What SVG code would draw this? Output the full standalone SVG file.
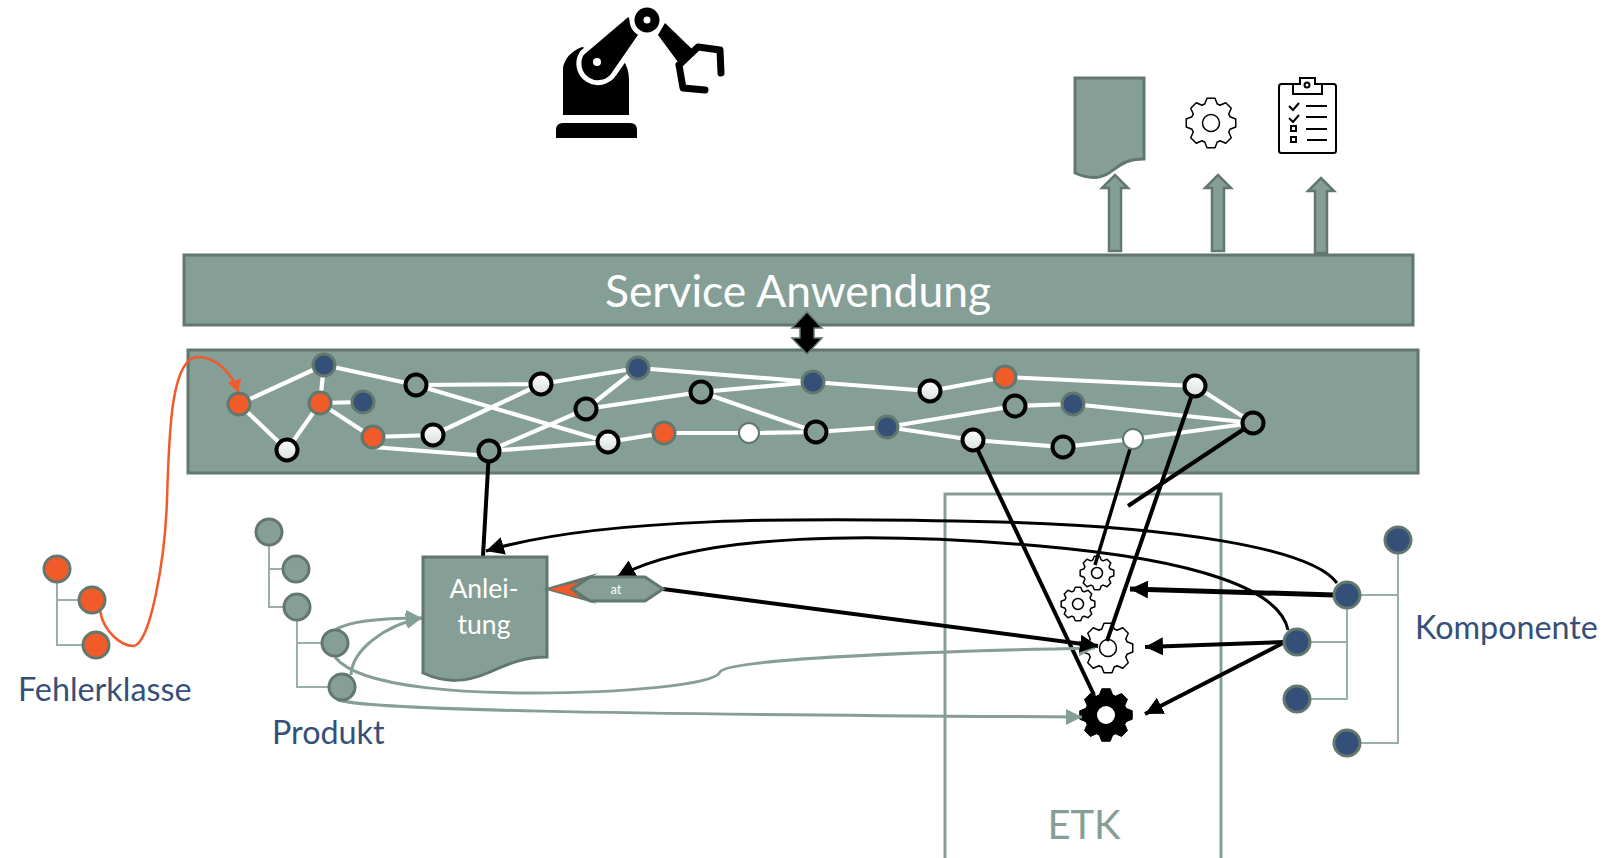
<svg xmlns="http://www.w3.org/2000/svg" xmlns:xlink="http://www.w3.org/1999/xlink" width="1609" height="858" viewBox="0 0 1609 858">
<style>
text{font-family:Lato,"Liberation Sans",sans-serif}
.band{fill:#859f97;stroke:#62776e;stroke-width:3}
.tl{fill:#355078;font-size:32.3px}
.tree{fill:none;stroke:#9ab0a7;stroke-width:2}
.o{fill:#f15a29;stroke:#62776e;stroke-width:3}
.n{fill:#355078;stroke:#62776e;stroke-width:3}
.g{fill:#859f97;stroke:#62776e;stroke-width:3}
.h{fill:#859f97;stroke:#000;stroke-width:4}
.w{fill:url(#wg);stroke:#000;stroke-width:4}
.p{fill:#fff;stroke:#62776e;stroke-width:2}
.lw{fill:none;stroke:#fff;stroke-width:4.2}
.lk{fill:none;stroke:#000;stroke-width:4}
.lk3{fill:none;stroke:#000;stroke-width:3}
.lg{fill:none;stroke:#859f97;stroke-width:3}
.gout{fill:#fff;stroke:#000;stroke-width:1.5;stroke-linejoin:round}
.gh{fill:#fff;stroke:#000;stroke-width:1.5}
</style>
<defs>
<linearGradient id="wg" x1="0" y1="0" x2="0" y2="1"><stop offset="0" stop-color="#fff"/><stop offset="1" stop-color="#d5dfdb"/></linearGradient>
<path id="gear" vector-effect="non-scaling-stroke" d="M76,-25L99,-16L99,16L76,25Q74,31 71,36L81,59L59,81L36,71Q31,74 25,76L16,99L-16,99L-25,76Q-31,74 -36,71L-59,81L-81,59L-71,36Q-74,31 -76,25L-99,16L-99,-16L-76,-25Q-74,-31 -71,-36L-81,-59L-59,-81L-36,-71Q-31,-74 -25,-76L-16,-99L16,-99L25,-76Q31,-74 36,-71L59,-81L81,-59L71,-36Q74,-31 76,-25Z"/>
<marker id="ak" markerUnits="userSpaceOnUse" markerWidth="20" markerHeight="18" refX="18" refY="9" orient="auto"><path d="M0,0L18,9L0,18Z" fill="#000"/></marker>
<marker id="ag" markerUnits="userSpaceOnUse" markerWidth="18" markerHeight="18" refX="16" refY="9" orient="auto"><path d="M0,1L16,9L0,17Z" fill="#859f97"/></marker>
<marker id="ao" markerUnits="userSpaceOnUse" markerWidth="14" markerHeight="14" refX="12" refY="7" orient="auto"><path d="M0,0L12,7L0,14Z" fill="#f15a29"/></marker>
</defs>

<g id="etk"><rect x="945" y="494" width="276" height="380" fill="none" stroke="#859f97" stroke-width="3"/>
<text x="1084" y="839" text-anchor="middle" font-size="40" fill="#859f97">ETK</text></g>

<g id="service-anwendung"><rect class="band" x="184" y="255" width="1229" height="70"/>
<text x="798" y="307" text-anchor="middle" font-size="44.4" fill="#fff">Service Anwendung</text></g>
<g id="graph-band"><rect class="band" x="188" y="350" width="1230" height="123"/></g>

<g id="gear-small-1"><use href="#gear" class="gout" transform="translate(1097,573) scale(.17)"/><circle class="gh" cx="1097" cy="573" r="5.5"/></g>
<g id="gear-small-2"><use href="#gear" class="gout" transform="translate(1078,604) scale(.17)"/><circle class="gh" cx="1078" cy="604" r="5.5"/></g>
<g id="gear-large"><use href="#gear" class="gout" transform="translate(1108,648) scale(.25)"/><circle class="gh" cx="1108" cy="648" r="8.5"/></g>
<g id="gear-black"><use href="#gear" fill="#000" stroke="#000" transform="translate(1106,715) scale(.265)"/><circle cx="1106" cy="715" r="9" fill="#fff"/></g>

<g id="connectors">
<g id="graph-edges">
<path class="lw" d="M239,404L324,365M239,404L287,450M287,450L320,403M324,365L320,403M320,403L363,402M320,403L372,437M372,437L433,435M372,447L489,456M433,435L541,384M324,365L416,385M416,385L541,384M416,385L608,442M541,384L638,368M638,368L586,409M489,451L586,409L701,392M489,451L608,442M608,442L664,433M664,433L749,433M749,433L816,432M816,432L887,427M638,368L813,382M701,392L813,382M701,392L816,432M813,382L930,391M930,391L1005,377M1005,377L1195,386M1195,386L1253,423M887,427L1015,406M1015,406L1073,404M1073,404L1253,423M887,427L973,440M973,440L1063,447M1063,447L1133,439M1133,439L1253,423"/>
</g>
<path class="lk" d="M489,451L483,556"/>
<path class="lk" d="M1195,386L1107,641"/>
<path class="lk3" style="stroke-width:3.5" d="M1133,439L1095,565"/>
<path class="lk" d="M973,440L1094,695"/>
<path class="lk" d="M1253,423L1128,506"/>
<path class="lk3" marker-end="url(#ak)" d="M1337,583C1310,547 1170,527 1000,522C800,517 600,517 486,551"/>
<path class="lk3" marker-end="url(#ak)" d="M1288,630C1280,590 1200,560 1040,546C880,532 700,532 617,577"/>
<path class="lg" marker-end="url(#ag)" d="M335,630C350,620 390,618 422,618"/>
<path class="lg" marker-end="url(#ag)" d="M351,675C352,650 385,625 422,618"/>
<path class="lg" marker-end="url(#ag)" d="M335,657C360,690 480,693 533,693C620,693 715,685 720,672C725,660 900,652 1095,648"/>
<path class="lg" marker-end="url(#ag)" d="M338,700C370,710 600,714 1082,717"/>
<path class="lk" marker-end="url(#ak)" d="M663,589L1098,646"/>
<path class="lk" style="stroke-width:5" marker-end="url(#ak)" d="M1334,595L1130,589"/>
<path class="lk" marker-end="url(#ak)" d="M1285,642L1145,647"/>
<path class="lk" marker-end="url(#ak)" d="M1285,642L1145,714"/>
<path d="M100,610C103,632 122,646 133,646C150,646 165,560 167,500C169,440 170,357 198,357C215,357 232,372 238,392" fill="none" stroke="#f15a29" stroke-width="2.5" marker-end="url(#ao)"/>
<path d="M807,312L822,328H814V338H822L807,354L792,338H800V328H792Z" fill="#000" stroke="#62776e" stroke-width="1.5"/>
</g>

<g id="graph-nodes">
<circle class="o" cx="239" cy="404" r="11"/><circle class="w" cx="287" cy="450" r="10.5"/><circle class="n" cx="324" cy="365" r="11"/><circle class="o" cx="320" cy="403" r="11"/><circle class="n" cx="363" cy="402" r="11"/><circle class="o" cx="373" cy="437" r="11"/><circle class="w" cx="433" cy="435" r="10.5"/><circle class="h" cx="416" cy="385" r="10.5"/><circle class="h" cx="489" cy="451" r="10.5"/><circle class="w" cx="541" cy="384" r="10.5"/><circle class="h" cx="586" cy="409" r="10.5"/><circle class="n" cx="638" cy="368" r="11"/><circle class="h" cx="701" cy="392" r="10.5"/><circle class="w" cx="608" cy="442" r="10.5"/><circle class="o" cx="664" cy="433" r="11"/><circle class="p" cx="749" cy="433" r="10"/><circle class="h" cx="816" cy="432" r="10.5"/><circle class="n" cx="813" cy="382" r="11"/><circle class="n" cx="887" cy="427" r="11"/><circle class="w" cx="930" cy="391" r="10.5"/><circle class="o" cx="1005" cy="377" r="11"/><circle class="h" cx="1015" cy="406" r="10.5"/><circle class="n" cx="1073" cy="404" r="11"/><circle class="w" cx="973" cy="440" r="10.5"/><circle class="h" cx="1063" cy="447" r="10.5"/><circle class="p" cx="1133" cy="439" r="10"/><circle class="w" cx="1195" cy="386" r="10.5"/><circle class="h" cx="1253" cy="423" r="10.5"/>
</g>

<g id="anleitung"><path class="band" d="M423,557H547V657C525,657 510,663 490,672C465,683 445,683 423,673Z"/>
<text x="484" y="598" text-anchor="middle" font-size="26.5" fill="#fff">Anlei-</text><text x="484" y="634" text-anchor="middle" font-size="26.5" fill="#fff">tung</text></g>

<g id="at">
<path d="M543,589L598,573L572,589L597,604Z" fill="#62776e"/><path d="M549,589L580,582L570,589L580,598Z" fill="#f15a29"/>
<path class="band" stroke-width="2.5" d="M572,589L590,577H645L663,589L645,601H590Z"/>
<text x="616" y="594" text-anchor="middle" font-size="13" fill="#fff">at</text></g>

<g id="fehlerklasse"><path class="tree" d="M57,569V645H96M57,600H92"/>
<circle class="o" cx="57" cy="569" r="13"/><circle class="o" cx="92" cy="600" r="13"/><circle class="o" cx="96" cy="645" r="13"/>
<text class="tl" x="18" y="701">Fehlerklasse</text></g>

<g id="produkt"><path class="tree" d="M269,532V607H297M269,569H296M297,607V687H342M297,643H335"/>
<circle class="g" cx="269" cy="532" r="13"/><circle class="g" cx="296" cy="569" r="13"/><circle class="g" cx="297" cy="607" r="13"/><circle class="g" cx="335" cy="643" r="13"/><circle class="g" cx="342" cy="687" r="13"/>
<text class="tl" x="272" y="744">Produkt</text></g>

<g id="komponente"><path class="tree" d="M1398,540V743H1347M1398,595H1347V699H1297M1347,642H1297"/>
<circle class="n" cx="1398" cy="540" r="13"/><circle class="n" cx="1347" cy="595" r="13"/><circle class="n" cx="1297" cy="642" r="13"/><circle class="n" cx="1297" cy="699" r="13"/><circle class="n" cx="1347" cy="743" r="13"/>
<text class="tl" x="1415" y="639">Komponente</text></g>

<g id="robot">
<path d="M556,138V130Q556,123 563,123H630Q637,123 637,130V138Z" fill="#000"/>
<path d="M563,115V68Q565,54 582,47L623,60Q629,68 629,80V115Z" fill="#000"/>
<path d="M582,53L629,13L641,35L614,74A18,18 0 1 1 582,53Z" fill="#000" stroke="#fff" stroke-width="5" stroke-linejoin="round"/>
<circle cx="597" cy="62" r="4" fill="#fff"/>
<circle cx="647" cy="20" r="15" fill="#000" stroke="#fff" stroke-width="5"/><circle cx="647" cy="20" r="3.5" fill="#fff"/>
<path d="M665,23L693,50L678,62L658,35Z" fill="#000"/>
<path d="M679,65L698,47L720,50L721,73M679,65L683,88L705,90" fill="none" stroke="#000" stroke-width="7" stroke-linecap="round" stroke-linejoin="round"/>
</g>

<g id="output-document"><path class="band" d="M1075,78H1144V159C1125,159 1119,166 1109,173C1098,180 1086,178 1075,173Z"/></g>
<g id="output-gear"><use href="#gear" class="gout" transform="translate(1211,123) scale(.25)"/><circle class="gh" cx="1211" cy="123" r="8.5"/></g>
<g id="output-checklist" fill="none" stroke="#000" stroke-width="2">
<rect x="1279" y="84" width="57" height="69" rx="2.5"/>
<path d="M1293,94V84H1300V78H1315V84H1322V94Z" fill="#fff"/><circle cx="1307" cy="85" r="2.5"/>
<path d="M1289,106L1293,110L1299,103M1289,118L1293,122L1299,115M1306,106H1327M1306,117H1327M1306,129H1327M1307,140H1327"/>
<rect x="1291" y="126" width="5" height="5" stroke-width="2"/><rect x="1291" y="137" width="5" height="5" stroke-width="2"/>
</g>

<g id="output-arrows" fill="#859f97" stroke="#62776e" stroke-width="2.5">
<path d="M1115,175L1128,188H1121V251H1109V188H1102Z"/>
<path d="M1218,175L1231,188H1224V251H1212V188H1205Z"/>
<path d="M1321,178L1334,191H1327V253H1315V191H1308Z"/>
</g>
</svg>
